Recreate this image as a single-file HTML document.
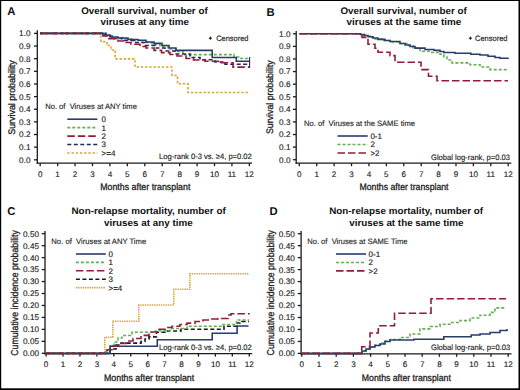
<!DOCTYPE html>
<html><head><meta charset="utf-8"><style>
html,body{margin:0;padding:0;background:#fff;}
svg{display:block;}
text{font-family:"Liberation Sans",sans-serif;text-rendering:geometricPrecision;}
</style></head><body>
<svg width="520" height="390" viewBox="0 0 520 390">
<rect x="0" y="0" width="520" height="390" fill="#000"/>
<rect x="1.2" y="1" width="517.3" height="387.3" fill="#fff"/>
<text x="7.2" y="15.3" font-size="11.3" font-weight="bold" text-anchor="start" fill="#111" >A</text>
<text x="266.5" y="15.5" font-size="11.3" font-weight="bold" text-anchor="start" fill="#111" >B</text>
<text x="7.3" y="214.8" font-size="11.3" font-weight="bold" text-anchor="start" fill="#111" >C</text>
<text x="269.6" y="214.8" font-size="11.3" font-weight="bold" text-anchor="start" fill="#111" >D</text>
<text x="81.2" y="13.5" font-size="9.5" font-weight="bold" text-anchor="start" fill="#111" textLength="126.5" lengthAdjust="spacingAndGlyphs" >Overall survival, number of</text>
<text x="100.6" y="25" font-size="9.5" font-weight="bold" text-anchor="start" fill="#111" textLength="88.3" lengthAdjust="spacingAndGlyphs" >viruses at any time</text>
<text x="340.5" y="13.5" font-size="9.5" font-weight="bold" text-anchor="start" fill="#111" textLength="126.3" lengthAdjust="spacingAndGlyphs" >Overall survival, number of</text>
<text x="346.6" y="25" font-size="9.5" font-weight="bold" text-anchor="start" fill="#111" textLength="114.7" lengthAdjust="spacingAndGlyphs" >viruses at the same time</text>
<text x="71.5" y="213.9" font-size="9.5" font-weight="bold" text-anchor="start" fill="#111" textLength="154.2" lengthAdjust="spacingAndGlyphs" >Non-relapse mortality, number of</text>
<text x="104" y="225.6" font-size="9.5" font-weight="bold" text-anchor="start" fill="#111" textLength="88.7" lengthAdjust="spacingAndGlyphs" >viruses at any time</text>
<text x="329.2" y="213.9" font-size="9.5" font-weight="bold" text-anchor="start" fill="#111" textLength="153.8" lengthAdjust="spacingAndGlyphs" >Non-relapse mortality, number of</text>
<text x="349.2" y="225.6" font-size="9.5" font-weight="bold" text-anchor="start" fill="#111" textLength="114.3" lengthAdjust="spacingAndGlyphs" >viruses at the same time</text>
<line x1="37.3" y1="30.3" x2="37.3" y2="163.79999999999998" stroke="#1a1a1a" stroke-width="1.3"/>
<line x1="36.699999999999996" y1="163.2" x2="252" y2="163.2" stroke="#1a1a1a" stroke-width="1.3"/>
<line x1="34.0" y1="159.8" x2="37.3" y2="159.8" stroke="#1a1a1a" stroke-width="1.3"/>
<text x="30.5" y="162.70000000000002" font-size="8.2" font-weight="normal" text-anchor="end" fill="#1a1a1a" stroke="#1a1a1a" stroke-width="0.12" >0.0</text>
<line x1="34.0" y1="147.16000000000003" x2="37.3" y2="147.16000000000003" stroke="#1a1a1a" stroke-width="1.3"/>
<text x="30.5" y="150.06000000000003" font-size="8.2" font-weight="normal" text-anchor="end" fill="#1a1a1a" stroke="#1a1a1a" stroke-width="0.12" >0.1</text>
<line x1="34.0" y1="134.52" x2="37.3" y2="134.52" stroke="#1a1a1a" stroke-width="1.3"/>
<text x="30.5" y="137.42000000000002" font-size="8.2" font-weight="normal" text-anchor="end" fill="#1a1a1a" stroke="#1a1a1a" stroke-width="0.12" >0.2</text>
<line x1="34.0" y1="121.88000000000001" x2="37.3" y2="121.88000000000001" stroke="#1a1a1a" stroke-width="1.3"/>
<text x="30.5" y="124.78000000000002" font-size="8.2" font-weight="normal" text-anchor="end" fill="#1a1a1a" stroke="#1a1a1a" stroke-width="0.12" >0.3</text>
<line x1="34.0" y1="109.24000000000001" x2="37.3" y2="109.24000000000001" stroke="#1a1a1a" stroke-width="1.3"/>
<text x="30.5" y="112.14000000000001" font-size="8.2" font-weight="normal" text-anchor="end" fill="#1a1a1a" stroke="#1a1a1a" stroke-width="0.12" >0.4</text>
<line x1="34.0" y1="96.60000000000001" x2="37.3" y2="96.60000000000001" stroke="#1a1a1a" stroke-width="1.3"/>
<text x="30.5" y="99.50000000000001" font-size="8.2" font-weight="normal" text-anchor="end" fill="#1a1a1a" stroke="#1a1a1a" stroke-width="0.12" >0.5</text>
<line x1="34.0" y1="83.96000000000001" x2="37.3" y2="83.96000000000001" stroke="#1a1a1a" stroke-width="1.3"/>
<text x="30.5" y="86.86000000000001" font-size="8.2" font-weight="normal" text-anchor="end" fill="#1a1a1a" stroke="#1a1a1a" stroke-width="0.12" >0.6</text>
<line x1="34.0" y1="71.32000000000001" x2="37.3" y2="71.32000000000001" stroke="#1a1a1a" stroke-width="1.3"/>
<text x="30.5" y="74.22000000000001" font-size="8.2" font-weight="normal" text-anchor="end" fill="#1a1a1a" stroke="#1a1a1a" stroke-width="0.12" >0.7</text>
<line x1="34.0" y1="58.68000000000001" x2="37.3" y2="58.68000000000001" stroke="#1a1a1a" stroke-width="1.3"/>
<text x="30.5" y="61.580000000000005" font-size="8.2" font-weight="normal" text-anchor="end" fill="#1a1a1a" stroke="#1a1a1a" stroke-width="0.12" >0.8</text>
<line x1="34.0" y1="46.040000000000006" x2="37.3" y2="46.040000000000006" stroke="#1a1a1a" stroke-width="1.3"/>
<text x="30.5" y="48.940000000000005" font-size="8.2" font-weight="normal" text-anchor="end" fill="#1a1a1a" stroke="#1a1a1a" stroke-width="0.12" >0.9</text>
<line x1="34.0" y1="33.400000000000006" x2="37.3" y2="33.400000000000006" stroke="#1a1a1a" stroke-width="1.3"/>
<text x="30.5" y="36.300000000000004" font-size="8.2" font-weight="normal" text-anchor="end" fill="#1a1a1a" stroke="#1a1a1a" stroke-width="0.12" >1.0</text>
<line x1="40.2" y1="163.2" x2="40.2" y2="166.2" stroke="#1a1a1a" stroke-width="1.3"/>
<text x="40.2" y="176.6" font-size="8.1" font-weight="normal" text-anchor="middle" fill="#1a1a1a" stroke="#1a1a1a" stroke-width="0.12" >0</text>
<line x1="57.63" y1="163.2" x2="57.63" y2="166.2" stroke="#1a1a1a" stroke-width="1.3"/>
<text x="57.63" y="176.6" font-size="8.1" font-weight="normal" text-anchor="middle" fill="#1a1a1a" stroke="#1a1a1a" stroke-width="0.12" >1</text>
<line x1="75.06" y1="163.2" x2="75.06" y2="166.2" stroke="#1a1a1a" stroke-width="1.3"/>
<text x="75.06" y="176.6" font-size="8.1" font-weight="normal" text-anchor="middle" fill="#1a1a1a" stroke="#1a1a1a" stroke-width="0.12" >2</text>
<line x1="92.49000000000001" y1="163.2" x2="92.49000000000001" y2="166.2" stroke="#1a1a1a" stroke-width="1.3"/>
<text x="92.49000000000001" y="176.6" font-size="8.1" font-weight="normal" text-anchor="middle" fill="#1a1a1a" stroke="#1a1a1a" stroke-width="0.12" >3</text>
<line x1="109.92" y1="163.2" x2="109.92" y2="166.2" stroke="#1a1a1a" stroke-width="1.3"/>
<text x="109.92" y="176.6" font-size="8.1" font-weight="normal" text-anchor="middle" fill="#1a1a1a" stroke="#1a1a1a" stroke-width="0.12" >4</text>
<line x1="127.35000000000001" y1="163.2" x2="127.35000000000001" y2="166.2" stroke="#1a1a1a" stroke-width="1.3"/>
<text x="127.35000000000001" y="176.6" font-size="8.1" font-weight="normal" text-anchor="middle" fill="#1a1a1a" stroke="#1a1a1a" stroke-width="0.12" >5</text>
<line x1="144.78" y1="163.2" x2="144.78" y2="166.2" stroke="#1a1a1a" stroke-width="1.3"/>
<text x="144.78" y="176.6" font-size="8.1" font-weight="normal" text-anchor="middle" fill="#1a1a1a" stroke="#1a1a1a" stroke-width="0.12" >6</text>
<line x1="162.20999999999998" y1="163.2" x2="162.20999999999998" y2="166.2" stroke="#1a1a1a" stroke-width="1.3"/>
<text x="162.20999999999998" y="176.6" font-size="8.1" font-weight="normal" text-anchor="middle" fill="#1a1a1a" stroke="#1a1a1a" stroke-width="0.12" >7</text>
<line x1="179.64" y1="163.2" x2="179.64" y2="166.2" stroke="#1a1a1a" stroke-width="1.3"/>
<text x="179.64" y="176.6" font-size="8.1" font-weight="normal" text-anchor="middle" fill="#1a1a1a" stroke="#1a1a1a" stroke-width="0.12" >8</text>
<line x1="197.07" y1="163.2" x2="197.07" y2="166.2" stroke="#1a1a1a" stroke-width="1.3"/>
<text x="197.07" y="176.6" font-size="8.1" font-weight="normal" text-anchor="middle" fill="#1a1a1a" stroke="#1a1a1a" stroke-width="0.12" >9</text>
<line x1="214.5" y1="163.2" x2="214.5" y2="166.2" stroke="#1a1a1a" stroke-width="1.3"/>
<text x="214.5" y="176.6" font-size="8.1" font-weight="normal" text-anchor="middle" fill="#1a1a1a" stroke="#1a1a1a" stroke-width="0.12" >10</text>
<line x1="231.93" y1="163.2" x2="231.93" y2="166.2" stroke="#1a1a1a" stroke-width="1.3"/>
<text x="231.93" y="176.6" font-size="8.1" font-weight="normal" text-anchor="middle" fill="#1a1a1a" stroke="#1a1a1a" stroke-width="0.12" >11</text>
<line x1="249.36" y1="163.2" x2="249.36" y2="166.2" stroke="#1a1a1a" stroke-width="1.3"/>
<text x="249.36" y="176.6" font-size="8.1" font-weight="normal" text-anchor="middle" fill="#1a1a1a" stroke="#1a1a1a" stroke-width="0.12" >12</text>
<line x1="296.2" y1="31.0" x2="296.2" y2="163.79999999999998" stroke="#1a1a1a" stroke-width="1.3"/>
<line x1="295.59999999999997" y1="163.2" x2="511.3" y2="163.2" stroke="#1a1a1a" stroke-width="1.3"/>
<line x1="292.9" y1="159.7" x2="296.2" y2="159.7" stroke="#1a1a1a" stroke-width="1.3"/>
<text x="290.5" y="162.6" font-size="8.2" font-weight="normal" text-anchor="end" fill="#1a1a1a" stroke="#1a1a1a" stroke-width="0.12" >0.0</text>
<line x1="292.9" y1="147.10999999999999" x2="296.2" y2="147.10999999999999" stroke="#1a1a1a" stroke-width="1.3"/>
<text x="290.5" y="150.01" font-size="8.2" font-weight="normal" text-anchor="end" fill="#1a1a1a" stroke="#1a1a1a" stroke-width="0.12" >0.1</text>
<line x1="292.9" y1="134.51999999999998" x2="296.2" y2="134.51999999999998" stroke="#1a1a1a" stroke-width="1.3"/>
<text x="290.5" y="137.42" font-size="8.2" font-weight="normal" text-anchor="end" fill="#1a1a1a" stroke="#1a1a1a" stroke-width="0.12" >0.2</text>
<line x1="292.9" y1="121.92999999999999" x2="296.2" y2="121.92999999999999" stroke="#1a1a1a" stroke-width="1.3"/>
<text x="290.5" y="124.83" font-size="8.2" font-weight="normal" text-anchor="end" fill="#1a1a1a" stroke="#1a1a1a" stroke-width="0.12" >0.3</text>
<line x1="292.9" y1="109.33999999999999" x2="296.2" y2="109.33999999999999" stroke="#1a1a1a" stroke-width="1.3"/>
<text x="290.5" y="112.24" font-size="8.2" font-weight="normal" text-anchor="end" fill="#1a1a1a" stroke="#1a1a1a" stroke-width="0.12" >0.4</text>
<line x1="292.9" y1="96.75" x2="296.2" y2="96.75" stroke="#1a1a1a" stroke-width="1.3"/>
<text x="290.5" y="99.65" font-size="8.2" font-weight="normal" text-anchor="end" fill="#1a1a1a" stroke="#1a1a1a" stroke-width="0.12" >0.5</text>
<line x1="292.9" y1="84.16" x2="296.2" y2="84.16" stroke="#1a1a1a" stroke-width="1.3"/>
<text x="290.5" y="87.06" font-size="8.2" font-weight="normal" text-anchor="end" fill="#1a1a1a" stroke="#1a1a1a" stroke-width="0.12" >0.6</text>
<line x1="292.9" y1="71.57" x2="296.2" y2="71.57" stroke="#1a1a1a" stroke-width="1.3"/>
<text x="290.5" y="74.47" font-size="8.2" font-weight="normal" text-anchor="end" fill="#1a1a1a" stroke="#1a1a1a" stroke-width="0.12" >0.7</text>
<line x1="292.9" y1="58.97999999999999" x2="296.2" y2="58.97999999999999" stroke="#1a1a1a" stroke-width="1.3"/>
<text x="290.5" y="61.87999999999999" font-size="8.2" font-weight="normal" text-anchor="end" fill="#1a1a1a" stroke="#1a1a1a" stroke-width="0.12" >0.8</text>
<line x1="292.9" y1="46.39" x2="296.2" y2="46.39" stroke="#1a1a1a" stroke-width="1.3"/>
<text x="290.5" y="49.29" font-size="8.2" font-weight="normal" text-anchor="end" fill="#1a1a1a" stroke="#1a1a1a" stroke-width="0.12" >0.9</text>
<line x1="292.9" y1="33.8" x2="296.2" y2="33.8" stroke="#1a1a1a" stroke-width="1.3"/>
<text x="290.5" y="36.699999999999996" font-size="8.2" font-weight="normal" text-anchor="end" fill="#1a1a1a" stroke="#1a1a1a" stroke-width="0.12" >1.0</text>
<line x1="299.3" y1="163.2" x2="299.3" y2="166.2" stroke="#1a1a1a" stroke-width="1.3"/>
<text x="299.3" y="176.6" font-size="8.1" font-weight="normal" text-anchor="middle" fill="#1a1a1a" stroke="#1a1a1a" stroke-width="0.12" >0</text>
<line x1="316.71000000000004" y1="163.2" x2="316.71000000000004" y2="166.2" stroke="#1a1a1a" stroke-width="1.3"/>
<text x="316.71000000000004" y="176.6" font-size="8.1" font-weight="normal" text-anchor="middle" fill="#1a1a1a" stroke="#1a1a1a" stroke-width="0.12" >1</text>
<line x1="334.12" y1="163.2" x2="334.12" y2="166.2" stroke="#1a1a1a" stroke-width="1.3"/>
<text x="334.12" y="176.6" font-size="8.1" font-weight="normal" text-anchor="middle" fill="#1a1a1a" stroke="#1a1a1a" stroke-width="0.12" >2</text>
<line x1="351.53000000000003" y1="163.2" x2="351.53000000000003" y2="166.2" stroke="#1a1a1a" stroke-width="1.3"/>
<text x="351.53000000000003" y="176.6" font-size="8.1" font-weight="normal" text-anchor="middle" fill="#1a1a1a" stroke="#1a1a1a" stroke-width="0.12" >3</text>
<line x1="368.94" y1="163.2" x2="368.94" y2="166.2" stroke="#1a1a1a" stroke-width="1.3"/>
<text x="368.94" y="176.6" font-size="8.1" font-weight="normal" text-anchor="middle" fill="#1a1a1a" stroke="#1a1a1a" stroke-width="0.12" >4</text>
<line x1="386.35" y1="163.2" x2="386.35" y2="166.2" stroke="#1a1a1a" stroke-width="1.3"/>
<text x="386.35" y="176.6" font-size="8.1" font-weight="normal" text-anchor="middle" fill="#1a1a1a" stroke="#1a1a1a" stroke-width="0.12" >5</text>
<line x1="403.76" y1="163.2" x2="403.76" y2="166.2" stroke="#1a1a1a" stroke-width="1.3"/>
<text x="403.76" y="176.6" font-size="8.1" font-weight="normal" text-anchor="middle" fill="#1a1a1a" stroke="#1a1a1a" stroke-width="0.12" >6</text>
<line x1="421.17" y1="163.2" x2="421.17" y2="166.2" stroke="#1a1a1a" stroke-width="1.3"/>
<text x="421.17" y="176.6" font-size="8.1" font-weight="normal" text-anchor="middle" fill="#1a1a1a" stroke="#1a1a1a" stroke-width="0.12" >7</text>
<line x1="438.58000000000004" y1="163.2" x2="438.58000000000004" y2="166.2" stroke="#1a1a1a" stroke-width="1.3"/>
<text x="438.58000000000004" y="176.6" font-size="8.1" font-weight="normal" text-anchor="middle" fill="#1a1a1a" stroke="#1a1a1a" stroke-width="0.12" >8</text>
<line x1="455.99" y1="163.2" x2="455.99" y2="166.2" stroke="#1a1a1a" stroke-width="1.3"/>
<text x="455.99" y="176.6" font-size="8.1" font-weight="normal" text-anchor="middle" fill="#1a1a1a" stroke="#1a1a1a" stroke-width="0.12" >9</text>
<line x1="473.4" y1="163.2" x2="473.4" y2="166.2" stroke="#1a1a1a" stroke-width="1.3"/>
<text x="473.4" y="176.6" font-size="8.1" font-weight="normal" text-anchor="middle" fill="#1a1a1a" stroke="#1a1a1a" stroke-width="0.12" >10</text>
<line x1="490.81" y1="163.2" x2="490.81" y2="166.2" stroke="#1a1a1a" stroke-width="1.3"/>
<text x="490.81" y="176.6" font-size="8.1" font-weight="normal" text-anchor="middle" fill="#1a1a1a" stroke="#1a1a1a" stroke-width="0.12" >11</text>
<line x1="508.22" y1="163.2" x2="508.22" y2="166.2" stroke="#1a1a1a" stroke-width="1.3"/>
<text x="508.22" y="176.6" font-size="8.1" font-weight="normal" text-anchor="middle" fill="#1a1a1a" stroke="#1a1a1a" stroke-width="0.12" >12</text>
<line x1="45.0" y1="231.0" x2="45.0" y2="354.20000000000005" stroke="#1a1a1a" stroke-width="1.3"/>
<line x1="44.4" y1="353.6" x2="252.2" y2="353.6" stroke="#1a1a1a" stroke-width="1.3"/>
<line x1="41.7" y1="353.3" x2="45.0" y2="353.3" stroke="#1a1a1a" stroke-width="1.3"/>
<text x="39" y="356.2" font-size="8.2" font-weight="normal" text-anchor="end" fill="#1a1a1a" stroke="#1a1a1a" stroke-width="0.12" >0.00</text>
<line x1="41.7" y1="341.34000000000003" x2="45.0" y2="341.34000000000003" stroke="#1a1a1a" stroke-width="1.3"/>
<text x="39" y="344.24" font-size="8.2" font-weight="normal" text-anchor="end" fill="#1a1a1a" stroke="#1a1a1a" stroke-width="0.12" >0.05</text>
<line x1="41.7" y1="329.38" x2="45.0" y2="329.38" stroke="#1a1a1a" stroke-width="1.3"/>
<text x="39" y="332.28" font-size="8.2" font-weight="normal" text-anchor="end" fill="#1a1a1a" stroke="#1a1a1a" stroke-width="0.12" >0.10</text>
<line x1="41.7" y1="317.42" x2="45.0" y2="317.42" stroke="#1a1a1a" stroke-width="1.3"/>
<text x="39" y="320.32" font-size="8.2" font-weight="normal" text-anchor="end" fill="#1a1a1a" stroke="#1a1a1a" stroke-width="0.12" >0.15</text>
<line x1="41.7" y1="305.46" x2="45.0" y2="305.46" stroke="#1a1a1a" stroke-width="1.3"/>
<text x="39" y="308.35999999999996" font-size="8.2" font-weight="normal" text-anchor="end" fill="#1a1a1a" stroke="#1a1a1a" stroke-width="0.12" >0.20</text>
<line x1="41.7" y1="293.5" x2="45.0" y2="293.5" stroke="#1a1a1a" stroke-width="1.3"/>
<text x="39" y="296.4" font-size="8.2" font-weight="normal" text-anchor="end" fill="#1a1a1a" stroke="#1a1a1a" stroke-width="0.12" >0.25</text>
<line x1="41.7" y1="281.53999999999996" x2="45.0" y2="281.53999999999996" stroke="#1a1a1a" stroke-width="1.3"/>
<text x="39" y="284.43999999999994" font-size="8.2" font-weight="normal" text-anchor="end" fill="#1a1a1a" stroke="#1a1a1a" stroke-width="0.12" >0.30</text>
<line x1="41.7" y1="269.58" x2="45.0" y2="269.58" stroke="#1a1a1a" stroke-width="1.3"/>
<text x="39" y="272.47999999999996" font-size="8.2" font-weight="normal" text-anchor="end" fill="#1a1a1a" stroke="#1a1a1a" stroke-width="0.12" >0.35</text>
<line x1="41.7" y1="257.62" x2="45.0" y2="257.62" stroke="#1a1a1a" stroke-width="1.3"/>
<text x="39" y="260.52" font-size="8.2" font-weight="normal" text-anchor="end" fill="#1a1a1a" stroke="#1a1a1a" stroke-width="0.12" >0.40</text>
<line x1="41.7" y1="245.65999999999997" x2="45.0" y2="245.65999999999997" stroke="#1a1a1a" stroke-width="1.3"/>
<text x="39" y="248.55999999999997" font-size="8.2" font-weight="normal" text-anchor="end" fill="#1a1a1a" stroke="#1a1a1a" stroke-width="0.12" >0.45</text>
<line x1="41.7" y1="233.7" x2="45.0" y2="233.7" stroke="#1a1a1a" stroke-width="1.3"/>
<text x="39" y="236.6" font-size="8.2" font-weight="normal" text-anchor="end" fill="#1a1a1a" stroke="#1a1a1a" stroke-width="0.12" >0.50</text>
<line x1="46.1" y1="353.6" x2="46.1" y2="356.6" stroke="#1a1a1a" stroke-width="1.3"/>
<text x="46.1" y="367.0" font-size="8.1" font-weight="normal" text-anchor="middle" fill="#1a1a1a" stroke="#1a1a1a" stroke-width="0.12" >0</text>
<line x1="63.03" y1="353.6" x2="63.03" y2="356.6" stroke="#1a1a1a" stroke-width="1.3"/>
<text x="63.03" y="367.0" font-size="8.1" font-weight="normal" text-anchor="middle" fill="#1a1a1a" stroke="#1a1a1a" stroke-width="0.12" >1</text>
<line x1="79.96000000000001" y1="353.6" x2="79.96000000000001" y2="356.6" stroke="#1a1a1a" stroke-width="1.3"/>
<text x="79.96000000000001" y="367.0" font-size="8.1" font-weight="normal" text-anchor="middle" fill="#1a1a1a" stroke="#1a1a1a" stroke-width="0.12" >2</text>
<line x1="96.89" y1="353.6" x2="96.89" y2="356.6" stroke="#1a1a1a" stroke-width="1.3"/>
<text x="96.89" y="367.0" font-size="8.1" font-weight="normal" text-anchor="middle" fill="#1a1a1a" stroke="#1a1a1a" stroke-width="0.12" >3</text>
<line x1="113.82" y1="353.6" x2="113.82" y2="356.6" stroke="#1a1a1a" stroke-width="1.3"/>
<text x="113.82" y="367.0" font-size="8.1" font-weight="normal" text-anchor="middle" fill="#1a1a1a" stroke="#1a1a1a" stroke-width="0.12" >4</text>
<line x1="130.75" y1="353.6" x2="130.75" y2="356.6" stroke="#1a1a1a" stroke-width="1.3"/>
<text x="130.75" y="367.0" font-size="8.1" font-weight="normal" text-anchor="middle" fill="#1a1a1a" stroke="#1a1a1a" stroke-width="0.12" >5</text>
<line x1="147.68" y1="353.6" x2="147.68" y2="356.6" stroke="#1a1a1a" stroke-width="1.3"/>
<text x="147.68" y="367.0" font-size="8.1" font-weight="normal" text-anchor="middle" fill="#1a1a1a" stroke="#1a1a1a" stroke-width="0.12" >6</text>
<line x1="164.60999999999999" y1="353.6" x2="164.60999999999999" y2="356.6" stroke="#1a1a1a" stroke-width="1.3"/>
<text x="164.60999999999999" y="367.0" font-size="8.1" font-weight="normal" text-anchor="middle" fill="#1a1a1a" stroke="#1a1a1a" stroke-width="0.12" >7</text>
<line x1="181.54" y1="353.6" x2="181.54" y2="356.6" stroke="#1a1a1a" stroke-width="1.3"/>
<text x="181.54" y="367.0" font-size="8.1" font-weight="normal" text-anchor="middle" fill="#1a1a1a" stroke="#1a1a1a" stroke-width="0.12" >8</text>
<line x1="198.47" y1="353.6" x2="198.47" y2="356.6" stroke="#1a1a1a" stroke-width="1.3"/>
<text x="198.47" y="367.0" font-size="8.1" font-weight="normal" text-anchor="middle" fill="#1a1a1a" stroke="#1a1a1a" stroke-width="0.12" >9</text>
<line x1="215.4" y1="353.6" x2="215.4" y2="356.6" stroke="#1a1a1a" stroke-width="1.3"/>
<text x="215.4" y="367.0" font-size="8.1" font-weight="normal" text-anchor="middle" fill="#1a1a1a" stroke="#1a1a1a" stroke-width="0.12" >10</text>
<line x1="232.32999999999998" y1="353.6" x2="232.32999999999998" y2="356.6" stroke="#1a1a1a" stroke-width="1.3"/>
<text x="232.32999999999998" y="367.0" font-size="8.1" font-weight="normal" text-anchor="middle" fill="#1a1a1a" stroke="#1a1a1a" stroke-width="0.12" >11</text>
<line x1="249.26" y1="353.6" x2="249.26" y2="356.6" stroke="#1a1a1a" stroke-width="1.3"/>
<text x="249.26" y="367.0" font-size="8.1" font-weight="normal" text-anchor="middle" fill="#1a1a1a" stroke="#1a1a1a" stroke-width="0.12" >12</text>
<line x1="301.1" y1="231.0" x2="301.1" y2="354.40000000000003" stroke="#1a1a1a" stroke-width="1.3"/>
<line x1="300.5" y1="353.8" x2="511.5" y2="353.8" stroke="#1a1a1a" stroke-width="1.3"/>
<line x1="297.8" y1="353.4" x2="301.1" y2="353.4" stroke="#1a1a1a" stroke-width="1.3"/>
<text x="294.8" y="356.29999999999995" font-size="8.2" font-weight="normal" text-anchor="end" fill="#1a1a1a" stroke="#1a1a1a" stroke-width="0.12" >0.00</text>
<line x1="297.8" y1="341.42999999999995" x2="301.1" y2="341.42999999999995" stroke="#1a1a1a" stroke-width="1.3"/>
<text x="294.8" y="344.3299999999999" font-size="8.2" font-weight="normal" text-anchor="end" fill="#1a1a1a" stroke="#1a1a1a" stroke-width="0.12" >0.05</text>
<line x1="297.8" y1="329.46" x2="301.1" y2="329.46" stroke="#1a1a1a" stroke-width="1.3"/>
<text x="294.8" y="332.35999999999996" font-size="8.2" font-weight="normal" text-anchor="end" fill="#1a1a1a" stroke="#1a1a1a" stroke-width="0.12" >0.10</text>
<line x1="297.8" y1="317.48999999999995" x2="301.1" y2="317.48999999999995" stroke="#1a1a1a" stroke-width="1.3"/>
<text x="294.8" y="320.38999999999993" font-size="8.2" font-weight="normal" text-anchor="end" fill="#1a1a1a" stroke="#1a1a1a" stroke-width="0.12" >0.15</text>
<line x1="297.8" y1="305.52" x2="301.1" y2="305.52" stroke="#1a1a1a" stroke-width="1.3"/>
<text x="294.8" y="308.41999999999996" font-size="8.2" font-weight="normal" text-anchor="end" fill="#1a1a1a" stroke="#1a1a1a" stroke-width="0.12" >0.20</text>
<line x1="297.8" y1="293.54999999999995" x2="301.1" y2="293.54999999999995" stroke="#1a1a1a" stroke-width="1.3"/>
<text x="294.8" y="296.44999999999993" font-size="8.2" font-weight="normal" text-anchor="end" fill="#1a1a1a" stroke="#1a1a1a" stroke-width="0.12" >0.25</text>
<line x1="297.8" y1="281.58" x2="301.1" y2="281.58" stroke="#1a1a1a" stroke-width="1.3"/>
<text x="294.8" y="284.47999999999996" font-size="8.2" font-weight="normal" text-anchor="end" fill="#1a1a1a" stroke="#1a1a1a" stroke-width="0.12" >0.30</text>
<line x1="297.8" y1="269.60999999999996" x2="301.1" y2="269.60999999999996" stroke="#1a1a1a" stroke-width="1.3"/>
<text x="294.8" y="272.50999999999993" font-size="8.2" font-weight="normal" text-anchor="end" fill="#1a1a1a" stroke="#1a1a1a" stroke-width="0.12" >0.35</text>
<line x1="297.8" y1="257.64" x2="301.1" y2="257.64" stroke="#1a1a1a" stroke-width="1.3"/>
<text x="294.8" y="260.53999999999996" font-size="8.2" font-weight="normal" text-anchor="end" fill="#1a1a1a" stroke="#1a1a1a" stroke-width="0.12" >0.40</text>
<line x1="297.8" y1="245.67" x2="301.1" y2="245.67" stroke="#1a1a1a" stroke-width="1.3"/>
<text x="294.8" y="248.57" font-size="8.2" font-weight="normal" text-anchor="end" fill="#1a1a1a" stroke="#1a1a1a" stroke-width="0.12" >0.45</text>
<line x1="297.8" y1="233.7" x2="301.1" y2="233.7" stroke="#1a1a1a" stroke-width="1.3"/>
<text x="294.8" y="236.6" font-size="8.2" font-weight="normal" text-anchor="end" fill="#1a1a1a" stroke="#1a1a1a" stroke-width="0.12" >0.50</text>
<line x1="301.8" y1="353.8" x2="301.8" y2="356.8" stroke="#1a1a1a" stroke-width="1.3"/>
<text x="301.8" y="367.2" font-size="8.1" font-weight="normal" text-anchor="middle" fill="#1a1a1a" stroke="#1a1a1a" stroke-width="0.12" >0</text>
<line x1="319.0" y1="353.8" x2="319.0" y2="356.8" stroke="#1a1a1a" stroke-width="1.3"/>
<text x="319.0" y="367.2" font-size="8.1" font-weight="normal" text-anchor="middle" fill="#1a1a1a" stroke="#1a1a1a" stroke-width="0.12" >1</text>
<line x1="336.2" y1="353.8" x2="336.2" y2="356.8" stroke="#1a1a1a" stroke-width="1.3"/>
<text x="336.2" y="367.2" font-size="8.1" font-weight="normal" text-anchor="middle" fill="#1a1a1a" stroke="#1a1a1a" stroke-width="0.12" >2</text>
<line x1="353.4" y1="353.8" x2="353.4" y2="356.8" stroke="#1a1a1a" stroke-width="1.3"/>
<text x="353.4" y="367.2" font-size="8.1" font-weight="normal" text-anchor="middle" fill="#1a1a1a" stroke="#1a1a1a" stroke-width="0.12" >3</text>
<line x1="370.6" y1="353.8" x2="370.6" y2="356.8" stroke="#1a1a1a" stroke-width="1.3"/>
<text x="370.6" y="367.2" font-size="8.1" font-weight="normal" text-anchor="middle" fill="#1a1a1a" stroke="#1a1a1a" stroke-width="0.12" >4</text>
<line x1="387.8" y1="353.8" x2="387.8" y2="356.8" stroke="#1a1a1a" stroke-width="1.3"/>
<text x="387.8" y="367.2" font-size="8.1" font-weight="normal" text-anchor="middle" fill="#1a1a1a" stroke="#1a1a1a" stroke-width="0.12" >5</text>
<line x1="405.0" y1="353.8" x2="405.0" y2="356.8" stroke="#1a1a1a" stroke-width="1.3"/>
<text x="405.0" y="367.2" font-size="8.1" font-weight="normal" text-anchor="middle" fill="#1a1a1a" stroke="#1a1a1a" stroke-width="0.12" >6</text>
<line x1="422.2" y1="353.8" x2="422.2" y2="356.8" stroke="#1a1a1a" stroke-width="1.3"/>
<text x="422.2" y="367.2" font-size="8.1" font-weight="normal" text-anchor="middle" fill="#1a1a1a" stroke="#1a1a1a" stroke-width="0.12" >7</text>
<line x1="439.4" y1="353.8" x2="439.4" y2="356.8" stroke="#1a1a1a" stroke-width="1.3"/>
<text x="439.4" y="367.2" font-size="8.1" font-weight="normal" text-anchor="middle" fill="#1a1a1a" stroke="#1a1a1a" stroke-width="0.12" >8</text>
<line x1="456.6" y1="353.8" x2="456.6" y2="356.8" stroke="#1a1a1a" stroke-width="1.3"/>
<text x="456.6" y="367.2" font-size="8.1" font-weight="normal" text-anchor="middle" fill="#1a1a1a" stroke="#1a1a1a" stroke-width="0.12" >9</text>
<line x1="473.8" y1="353.8" x2="473.8" y2="356.8" stroke="#1a1a1a" stroke-width="1.3"/>
<text x="473.8" y="367.2" font-size="8.1" font-weight="normal" text-anchor="middle" fill="#1a1a1a" stroke="#1a1a1a" stroke-width="0.12" >10</text>
<line x1="491.0" y1="353.8" x2="491.0" y2="356.8" stroke="#1a1a1a" stroke-width="1.3"/>
<text x="491.0" y="367.2" font-size="8.1" font-weight="normal" text-anchor="middle" fill="#1a1a1a" stroke="#1a1a1a" stroke-width="0.12" >11</text>
<line x1="508.2" y1="353.8" x2="508.2" y2="356.8" stroke="#1a1a1a" stroke-width="1.3"/>
<text x="508.2" y="367.2" font-size="8.1" font-weight="normal" text-anchor="middle" fill="#1a1a1a" stroke="#1a1a1a" stroke-width="0.12" >12</text>
<text x="100.2" y="189.6" font-size="9.6" font-weight="normal" text-anchor="start" fill="#222" textLength="90.2" lengthAdjust="spacingAndGlyphs" stroke="#222" stroke-width="0.3" >Months after transplant</text>
<text x="359.5" y="189.6" font-size="9.6" font-weight="normal" text-anchor="start" fill="#222" textLength="89.0" lengthAdjust="spacingAndGlyphs" stroke="#222" stroke-width="0.3" >Months after transplant</text>
<text x="104.0" y="380.8" font-size="9.6" font-weight="normal" text-anchor="start" fill="#222" textLength="90.2" lengthAdjust="spacingAndGlyphs" stroke="#222" stroke-width="0.3" >Months after transplant</text>
<text x="361.8" y="380.8" font-size="9.6" font-weight="normal" text-anchor="start" fill="#222" textLength="89.0" lengthAdjust="spacingAndGlyphs" stroke="#222" stroke-width="0.3" >Months after transplant</text>
<text x="0" y="0" font-size="9.6" font-weight="normal" text-anchor="start" fill="#222" textLength="74.6" lengthAdjust="spacingAndGlyphs" stroke="#222" stroke-width="0.3" transform="translate(14.5,134.8) rotate(-90)">Survival probability</text>
<text x="0" y="0" font-size="9.6" font-weight="normal" text-anchor="start" fill="#222" textLength="73.7" lengthAdjust="spacingAndGlyphs" stroke="#222" stroke-width="0.3" transform="translate(273,134) rotate(-90)">Survival probability</text>
<text x="0" y="0" font-size="10" font-weight="normal" text-anchor="start" fill="#222" textLength="125.7" lengthAdjust="spacingAndGlyphs" stroke="#222" stroke-width="0.3" transform="translate(18.3,355.8) rotate(-90)">Cumulative incidence probability</text>
<text x="0" y="0" font-size="10" font-weight="normal" text-anchor="start" fill="#222" textLength="125.3" lengthAdjust="spacingAndGlyphs" stroke="#222" stroke-width="0.3" transform="translate(274,355.4) rotate(-90)">Cumulative incidence probability</text>
<line x1="208.8" y1="38.2" x2="212.0" y2="38.2" stroke="#222" stroke-width="1.1"/>
<line x1="210.4" y1="36.6" x2="210.4" y2="39.8" stroke="#222" stroke-width="1.1"/>
<text x="216.2" y="40.7" font-size="7.8" font-weight="normal" text-anchor="start" fill="#222" textLength="32.30000000000001" lengthAdjust="spacingAndGlyphs" stroke="#222" stroke-width="0.15" >Censored</text>
<line x1="468.79999999999995" y1="38.2" x2="472.0" y2="38.2" stroke="#222" stroke-width="1.1"/>
<line x1="470.4" y1="36.6" x2="470.4" y2="39.8" stroke="#222" stroke-width="1.1"/>
<text x="475" y="40.7" font-size="7.8" font-weight="normal" text-anchor="start" fill="#222" textLength="32.5" lengthAdjust="spacingAndGlyphs" stroke="#222" stroke-width="0.15" >Censored</text>
<text x="159" y="158.7" font-size="7.8" font-weight="normal" text-anchor="start" fill="#222" textLength="92.8" lengthAdjust="spacingAndGlyphs" stroke="#222" stroke-width="0.15" >Log-rank 0-3 vs. ≥4, p=0.02</text>
<text x="431" y="159.8" font-size="7.8" font-weight="normal" text-anchor="start" fill="#222" textLength="79" lengthAdjust="spacingAndGlyphs" stroke="#222" stroke-width="0.15" >Global log-rank, p=0.03</text>
<text x="159" y="349.6" font-size="7.8" font-weight="normal" text-anchor="start" fill="#222" textLength="92.8" lengthAdjust="spacingAndGlyphs" stroke="#222" stroke-width="0.15" >Log-rank 0-3 vs. ≥4, p=0.02</text>
<text x="431" y="350.2" font-size="7.8" font-weight="normal" text-anchor="start" fill="#222" textLength="79.3" lengthAdjust="spacingAndGlyphs" stroke="#222" stroke-width="0.15" >Global log-rank, p=0.03</text>
<text x="45.2" y="108.7" font-size="7.8" font-weight="normal" text-anchor="start" fill="#222" textLength="91.7" lengthAdjust="spacingAndGlyphs" stroke="#222" stroke-width="0.12" >No. of&#160; Viruses at ANY time</text>
<path d="M67.3,119.2 H97.4" fill="none" stroke="#283c6c" stroke-width="1.6" stroke-linecap="butt" stroke-linejoin="miter"/>
<text x="101.6" y="122.10000000000001" font-size="8" font-weight="normal" text-anchor="start" fill="#1a1a1a" stroke="#1a1a1a" stroke-width="0.15" >0</text>
<path d="M67.3,127.65 H97.4" fill="none" stroke="#62b052" stroke-width="1.6" stroke-linecap="butt" stroke-linejoin="miter" stroke-dasharray="3 2"/>
<text x="101.6" y="130.55" font-size="8" font-weight="normal" text-anchor="start" fill="#1a1a1a" stroke="#1a1a1a" stroke-width="0.15" >1</text>
<path d="M67.3,136.1 H97.4" fill="none" stroke="#951a3a" stroke-width="1.6" stroke-linecap="butt" stroke-linejoin="miter" stroke-dasharray="7.5 3"/>
<text x="101.6" y="139.0" font-size="8" font-weight="normal" text-anchor="start" fill="#1a1a1a" stroke="#1a1a1a" stroke-width="0.15" >2</text>
<path d="M67.3,144.55 H97.4" fill="none" stroke="#2a2662" stroke-width="1.6" stroke-linecap="butt" stroke-linejoin="miter" stroke-dasharray="4 2.5"/>
<text x="101.6" y="147.45000000000002" font-size="8" font-weight="normal" text-anchor="start" fill="#1a1a1a" stroke="#1a1a1a" stroke-width="0.15" >3</text>
<path d="M67.3,153.0 H97.4" fill="none" stroke="#d6a634" stroke-width="1.6" stroke-linecap="butt" stroke-linejoin="miter" stroke-dasharray="2.4 1.8"/>
<text x="101.6" y="155.9" font-size="8" font-weight="normal" text-anchor="start" fill="#1a1a1a" stroke="#1a1a1a" stroke-width="0.15" >&gt;=4</text>
<text x="304" y="125.6" font-size="7.8" font-weight="normal" text-anchor="start" fill="#222" textLength="111" lengthAdjust="spacingAndGlyphs" stroke="#222" stroke-width="0.12" >No. of&#160; Viruses at the SAME time</text>
<path d="M337.5,136.0 H367.7" fill="none" stroke="#283c6c" stroke-width="1.6" stroke-linecap="butt" stroke-linejoin="miter"/>
<text x="370.4" y="138.9" font-size="8" font-weight="normal" text-anchor="start" fill="#1a1a1a" stroke="#1a1a1a" stroke-width="0.15" >0-1</text>
<path d="M337.5,144.5 H367.7" fill="none" stroke="#62b052" stroke-width="1.6" stroke-linecap="butt" stroke-linejoin="miter" stroke-dasharray="3 2"/>
<text x="370.4" y="147.4" font-size="8" font-weight="normal" text-anchor="start" fill="#1a1a1a" stroke="#1a1a1a" stroke-width="0.15" >2</text>
<path d="M337.5,153.0 H367.7" fill="none" stroke="#951a3a" stroke-width="1.6" stroke-linecap="butt" stroke-linejoin="miter" stroke-dasharray="7.5 3"/>
<text x="370.4" y="155.9" font-size="8" font-weight="normal" text-anchor="start" fill="#1a1a1a" stroke="#1a1a1a" stroke-width="0.15" >&gt;2</text>
<text x="51.3" y="243.6" font-size="7.8" font-weight="normal" text-anchor="start" fill="#222" textLength="94.9" lengthAdjust="spacingAndGlyphs" stroke="#222" stroke-width="0.12" >No. of&#160; Viruses at ANY Time</text>
<path d="M75.9,254.0 H105.8" fill="none" stroke="#283c6c" stroke-width="1.6" stroke-linecap="butt" stroke-linejoin="miter"/>
<text x="108.5" y="256.9" font-size="8" font-weight="normal" text-anchor="start" fill="#1a1a1a" stroke="#1a1a1a" stroke-width="0.15" >0</text>
<path d="M75.9,262.4 H105.8" fill="none" stroke="#62b052" stroke-width="1.6" stroke-linecap="butt" stroke-linejoin="miter" stroke-dasharray="3 2"/>
<text x="108.5" y="265.29999999999995" font-size="8" font-weight="normal" text-anchor="start" fill="#1a1a1a" stroke="#1a1a1a" stroke-width="0.15" >1</text>
<path d="M75.9,270.8 H105.8" fill="none" stroke="#951a3a" stroke-width="1.6" stroke-linecap="butt" stroke-linejoin="miter" stroke-dasharray="7.5 3"/>
<text x="108.5" y="273.7" font-size="8" font-weight="normal" text-anchor="start" fill="#1a1a1a" stroke="#1a1a1a" stroke-width="0.15" >2</text>
<path d="M75.9,279.2 H105.8" fill="none" stroke="#1a1a1a" stroke-width="1.6" stroke-linecap="butt" stroke-linejoin="miter" stroke-dasharray="4 2.5"/>
<text x="108.5" y="282.09999999999997" font-size="8" font-weight="normal" text-anchor="start" fill="#1a1a1a" stroke="#1a1a1a" stroke-width="0.15" >3</text>
<path d="M75.9,287.6 H105.8" fill="none" stroke="#d6a634" stroke-width="1.6" stroke-linecap="butt" stroke-linejoin="miter" stroke-dasharray="1.4 0.9"/>
<text x="108.5" y="290.5" font-size="8" font-weight="normal" text-anchor="start" fill="#1a1a1a" stroke="#1a1a1a" stroke-width="0.15" >&gt;=4</text>
<text x="307.2" y="243.6" font-size="7.8" font-weight="normal" text-anchor="start" fill="#222" textLength="100.3" lengthAdjust="spacingAndGlyphs" stroke="#222" stroke-width="0.12" >No. of&#160; Viruses at SAME Time</text>
<path d="M336,254.0 H366" fill="none" stroke="#283c6c" stroke-width="1.6" stroke-linecap="butt" stroke-linejoin="miter"/>
<text x="368.6" y="256.9" font-size="8" font-weight="normal" text-anchor="start" fill="#1a1a1a" stroke="#1a1a1a" stroke-width="0.15" >0-1</text>
<path d="M336,262.45 H366" fill="none" stroke="#62b052" stroke-width="1.6" stroke-linecap="butt" stroke-linejoin="miter" stroke-dasharray="3 2"/>
<text x="368.6" y="265.34999999999997" font-size="8" font-weight="normal" text-anchor="start" fill="#1a1a1a" stroke="#1a1a1a" stroke-width="0.15" >2</text>
<path d="M336,270.9 H366" fill="none" stroke="#951a3a" stroke-width="1.6" stroke-linecap="butt" stroke-linejoin="miter" stroke-dasharray="7.5 3"/>
<text x="368.6" y="273.79999999999995" font-size="8" font-weight="normal" text-anchor="start" fill="#1a1a1a" stroke="#1a1a1a" stroke-width="0.15" >&gt;2</text>
<path d="M40,33.4 H101 V41.8 H107 V45.5 H111 V50 H115.2 V58.9 H135 V67 H172 V75.5 H177.5 V83.8 H188 V92.5 H249.6" fill="none" stroke="#d6a634" stroke-width="1.6" stroke-linecap="butt" stroke-linejoin="miter" stroke-dasharray="2.4 1.8"/>
<path d="M40,33.4 H104 V35.5 H112 V37.5 H122 V39 H132 V40.5 H142 V42.5 H152 V44.5 H160 V46.5 H168 V49 H176 V51.5 H183 V54.6 H234 V57 H241 V58.5 H249.6" fill="none" stroke="#62b052" stroke-width="1.6" stroke-linecap="butt" stroke-linejoin="miter" stroke-dasharray="3 2"/>
<path d="M40,33.4 H106 V36 H114 V38.5 H124 V40.5 H134 V42.5 H145 V45.5 H155 V48 H165 V51 H175 V54 H190 V57.5 H200 V59.8 H215 V62 H225 V64.2 H249.6" fill="none" stroke="#2a2662" stroke-width="1.6" stroke-linecap="butt" stroke-linejoin="miter" stroke-dasharray="4 2.5"/>
<path d="M40,33.4 H104 V35 H110 V37 H118 V38 H128 V39.5 H138 V40.3 H146 V42 H154 V43.4 H162 V45.5 H169 V48 H176 V50.4 H212.2 V57.5 H236.3 V61.3 H249.6" fill="none" stroke="#283c6c" stroke-width="1.6" stroke-linecap="butt" stroke-linejoin="miter"/>
<path d="M40,33.4 H103 V36 H108 V38.8 H118 V41 H125 V42.5 H131 V44.2 H140 V46.5 H146 V48 H154 V50.4 H161.5 V52.6 H170 V54.5 H177 V56 H186 V58.5 H193.5 V60 H205 V61.3 H220 V62.8 H233 V67.1 H249.6" fill="none" stroke="#951a3a" stroke-width="1.6" stroke-linecap="butt" stroke-linejoin="miter" stroke-dasharray="7.5 3"/>
<line x1="249.6" y1="57" x2="249.6" y2="68" stroke="#2a2a50" stroke-width="1.1"/>
<path d="M299.5,33.8 H360.5 V34.5 H365 V36 H370 V37.5 H375 V39 H382 V40.5 H390 V42 H400 V43.5 H407 V45.5 H413 V48 H420 V51.3 H430 V52.5 H440 V54.2 H444 V57 H447 V60 H452 V62.9 H470 V64.8 H480 V67 H490 V69.6 H508 V70.2" fill="none" stroke="#62b052" stroke-width="1.6" stroke-linecap="butt" stroke-linejoin="miter" stroke-dasharray="3 2"/>
<path d="M299.5,33.8 H360.5 V34.5 H364 V35.5 H368 V36.7 H373 V38 H378 V39.4 H385 V40.5 H390 V41.5 H400 V43.5 H405 V45 H410 V46.5 H415 V48.1 H425 V49.5 H434 V50.4 H440 V51.5 H443.8 V52.5 H455 V53.3 H470.8 V54.2 H480 V55 H488 V56.2 H495 V57.5 H500 V58.3 H508 V59" fill="none" stroke="#283c6c" stroke-width="1.6" stroke-linecap="butt" stroke-linejoin="miter"/>
<path d="M299.5,33.8 H362 V37.4 H368 V44.2 H375 V48.2 H378 V52.2 H390 V55.6 H395 V62.3 H421 V69.6 H428.5 V76.3 H437 V80.8 H508" fill="none" stroke="#951a3a" stroke-width="1.6" stroke-linecap="butt" stroke-linejoin="miter" stroke-dasharray="7.5 3"/>
<path d="M46,353.4 H104.8 V337.2 H112.8 V321.2 H138.8 V305 H173.8 V289.3 H189.9 V273.8 H249.2" fill="none" stroke="#d6a634" stroke-width="1.6" stroke-linecap="butt" stroke-linejoin="miter" stroke-dasharray="1.4 0.9"/>
<path d="M46,353.4 H110 V349 H116 V345 H120 V343.1 H141 V341.5 H145 V339 H149 V336.9 H156.5 V332.3 H165 V331 H181 V329.2 H224 V326.2 H237 V323 H242 V321.5 H249" fill="none" stroke="#1a1a1a" stroke-width="1.6" stroke-linecap="butt" stroke-linejoin="miter" stroke-dasharray="4 2.5"/>
<path d="M46,353.4 H106 V350 H110 V346 H114 V342 H118 V338 H122 V335.5 H132 V332.3 H156 V330.8 H170 V328.5 H187 V326.2 H222 V324.6 H236.5 V320 H249" fill="none" stroke="#62b052" stroke-width="1.6" stroke-linecap="butt" stroke-linejoin="miter" stroke-dasharray="3 2"/>
<path d="M46,353.4 H110.2 V346.3 H157.3 V339.8 H212.2 V333.2 H237.1 V326 H248.5" fill="none" stroke="#283c6c" stroke-width="1.6" stroke-linecap="butt" stroke-linejoin="miter"/>
<path d="M46,353.4 H107 V349.8 H112 V346 H118 V343.5 H126 V341 H133 V338.5 H141 V335.4 H149 V332 H157 V329.2 H165 V327.5 H172 V326.2 H180 V324.5 H187 V323.1 H195 V321.5 H203 V320 H210 V319 H218 V318.5 H228 V315 H231 V313.8 H249 V313" fill="none" stroke="#951a3a" stroke-width="1.6" stroke-linecap="butt" stroke-linejoin="miter" stroke-dasharray="7.5 3"/>
<path d="M301.8,353.4 H362 V351 H366 V349 H370 V347 H375 V345 H380 V343 H385 V341 H390 V339.5 H400 V337.5 H410 V334 H420 V328.9 H430 V326.5 H440 V324.3 H450 V322.5 H460 V320.6 H470 V318 H480 V315.2 H490 V312.4 H495 V307.9 H506" fill="none" stroke="#62b052" stroke-width="1.6" stroke-linecap="butt" stroke-linejoin="miter" stroke-dasharray="3 2"/>
<path d="M301.8,353.4 H362 V351 H366 V349 H370 V347 H375 V345.5 H380 V344 H385 V341.5 H390 V340 H414 V339.3 H443.8 V336.7 H471.2 V335 H480 V334 H490 V332.5 H500 V330.5 H507 V328.9" fill="none" stroke="#283c6c" stroke-width="1.6" stroke-linecap="butt" stroke-linejoin="miter"/>
<path d="M301.8,353.4 H361.7 V346.7 H370 V333 H378.3 V325.8 H394.5 V313.3 H431 V298.7 H506" fill="none" stroke="#951a3a" stroke-width="1.6" stroke-linecap="butt" stroke-linejoin="miter" stroke-dasharray="7.5 3"/>
</svg>
</body></html>
